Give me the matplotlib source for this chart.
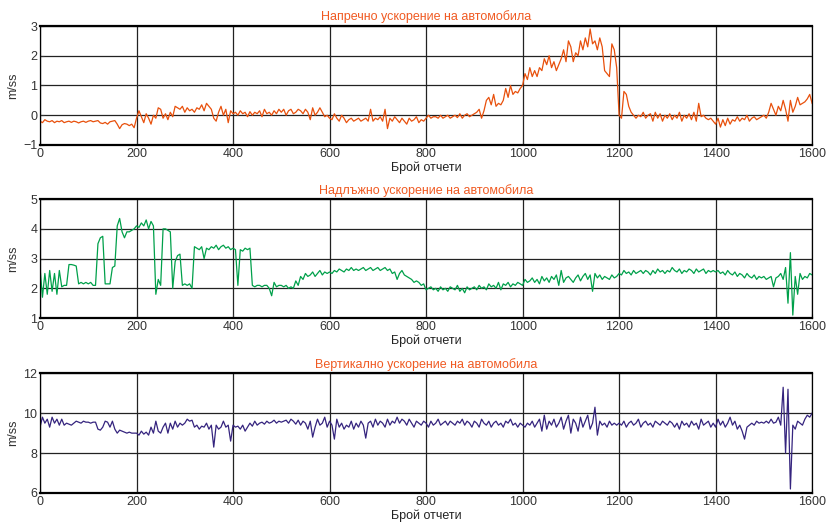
import numpy as np
import matplotlib.pyplot as plt

plt.rcParams['font.family'] = ['Liberation Sans', 'DejaVu Sans']

# sample index, one value every 5 samples
samples = np.arange(0, 1601, 5)

lateral = [
    -0.2, -0.25, -0.15, -0.2, -0.22, -0.18, -0.25, -0.2, -0.22, -0.18, -0.25, -0.22, -0.2, -0.24, -0.2, -0.22, -0.26, -0.22, -0.2, -0.24,
    -0.2, -0.18, -0.22, -0.2, -0.18, -0.26, -0.28, -0.24, -0.3, -0.22, -0.2, -0.18, -0.3, -0.45, -0.32, -0.28, -0.3, -0.35, -0.3, -0.42,
    -0.1, 0.15, -0.05, -0.25, 0.05, -0.1, -0.3, 0.0, -0.1, 0.25, 0.2, -0.1, 0.05, -0.15, 0.1, -0.05, 0.3, 0.25, 0.2, 0.3,
    0.1, 0.25, 0.15, 0.2, 0.1, 0.25, 0.2, 0.35, 0.15, 0.4, 0.3, 0.2, -0.1, -0.2, 0.1, 0.3, 0.0, 0.2, -0.25, 0.15,
    0.05, 0.1, 0.0, 0.15, 0.05, 0.1, -0.05, 0.12, 0.0, 0.1, 0.05, 0.15, -0.05, 0.2, 0.05, 0.1, 0.0, 0.15, 0.05, 0.2,
    0.1, 0.2, 0.0, 0.15, 0.2, 0.05, 0.1, 0.2, 0.15, 0.05, 0.2, 0.1, -0.15, 0.25, 0.0, 0.1, 0.25, 0.1, -0.05, 0.0,
    -0.1, -0.15, 0.05, -0.1, -0.2, 0.0, -0.1, -0.25, -0.15, -0.1, -0.2, -0.15, -0.1, -0.2, -0.15, -0.1, -0.2, 0.2, -0.2, -0.1,
    -0.15, -0.05, -0.2, 0.2, -0.45, -0.1, -0.2, -0.05, -0.15, -0.25, -0.1, -0.2, -0.3, -0.1, -0.2, -0.15, -0.05, -0.25, -0.15, -0.2,
    -0.1, 0.0, -0.1, -0.05, -0.05, -0.1, 0.0, -0.1, -0.05, 0.0, -0.1, -0.05, 0.0, -0.08, 0.05, -0.1, 0.0, 0.05, -0.05, 0.0,
    0.05, 0.1, 0.2, -0.1, 0.15, 0.5, 0.6, 0.35, 0.7, 0.3, 0.4, 0.35, 0.5, 0.9, 0.6, 1.0, 0.7, 0.8, 0.75, 0.9,
    1.0, 1.4, 1.2, 1.6, 1.3, 1.5, 1.3, 1.6, 1.5, 1.9, 1.7, 2.0, 1.6, 1.8, 1.5, 1.7, 1.9, 2.2, 1.8, 2.5,
    2.3, 1.8, 2.1, 2.0, 2.5, 2.2, 2.6, 2.3, 2.9, 2.4, 2.5, 2.2, 2.6, 2.3, 1.5, 1.4, 1.3, 2.4, 2.2, 1.6,
    0.0, -0.1, 0.8, 0.7, 0.3, 0.1, 0.0, -0.1, 0.0, -0.05, 0.1, -0.1, 0.0, 0.05, -0.2, 0.1, -0.1, 0.05, -0.2, 0.0,
    -0.1, 0.05, -0.15, 0.0, -0.1, 0.1, -0.2, 0.0, -0.1, 0.05, -0.15, 0.1, -0.2, 0.4, -0.05, 0.0, -0.1, -0.15, -0.1, -0.2,
    -0.3, -0.1, -0.4, -0.15, -0.35, -0.1, -0.3, -0.15, -0.2, -0.05, -0.2, -0.1, -0.15, 0.0, -0.2, -0.1, -0.05, -0.15, -0.1, -0.05,
    0.0, -0.1, 0.1, 0.4, 0.2, 0.0, 0.3, 0.15, 0.5, 0.2, -0.2, 0.5, 0.1, 0.3, 0.6, 0.35, 0.4, 0.45, 0.55, 0.7,
    0.4,
]

longitudinal = [
    2.7, 1.7, 2.5, 1.8, 2.6, 1.9, 2.5, 1.8, 2.6, 2.05, 2.1, 2.1, 2.8, 2.8, 2.78, 2.75, 2.15, 2.2, 2.15, 2.2,
    2.15, 2.2, 2.1, 2.1, 3.5, 3.7, 3.75, 2.15, 2.15, 2.15, 2.7, 2.75, 4.1, 4.35, 3.9, 3.7, 3.9, 3.9, 3.95, 4.0,
    4.1, 4.05, 4.2, 4.1, 4.3, 4.0, 4.25, 4.1, 1.8, 2.3, 2.1, 4.0, 4.0, 3.95, 3.9, 2.0, 2.9, 3.1, 3.15, 2.1,
    2.15, 2.1, 2.15, 2.0, 3.4, 3.35, 3.3, 3.4, 3.0, 3.35, 3.3, 3.4, 3.35, 3.45, 3.3, 3.4, 3.45, 3.35, 3.4, 3.3,
    3.35, 3.3, 2.1, 3.3, 3.25, 3.35, 3.3, 3.35, 2.1, 2.05, 2.1, 2.1, 2.05, 2.1, 2.1, 2.0, 1.75, 2.2, 2.05, 2.1,
    2.1, 2.05, 2.1, 2.0, 2.05, 2.0, 2.25, 2.1, 2.4, 2.3, 2.5, 2.4, 2.45, 2.55, 2.4, 2.5, 2.6, 2.45, 2.55, 2.5,
    2.55, 2.5, 2.6, 2.55, 2.65, 2.6, 2.55, 2.65, 2.6, 2.7, 2.6, 2.65, 2.6, 2.65, 2.7, 2.6, 2.65, 2.7, 2.6, 2.65,
    2.7, 2.6, 2.65, 2.7, 2.6, 2.65, 2.5, 2.55, 2.3, 2.5, 2.6, 2.45, 2.4, 2.35, 2.3, 2.2, 2.25, 2.2, 2.1, 2.15,
    1.95, 2.0, 2.05, 1.95, 2.0, 1.9, 2.05, 1.95, 2.0, 1.9, 2.05, 2.0, 1.95, 2.1, 1.9, 2.0, 1.85, 2.05, 1.95, 2.0,
    2.05, 1.95, 2.1, 2.0, 2.05, 1.95, 2.15, 2.05, 2.1, 2.0, 2.2, 1.95, 2.15, 2.1, 2.2, 2.05, 2.15, 2.1, 2.2, 2.15,
    2.1, 2.3, 2.2, 2.25, 2.35, 2.2, 2.3, 2.15, 2.4, 2.25, 2.35, 2.2, 2.4, 2.3, 2.45, 2.1, 2.6, 2.2, 2.35, 2.4,
    2.3, 2.2, 2.35, 2.45, 2.25, 2.4, 2.5, 2.3, 2.45, 1.9, 2.5, 2.35, 2.45, 2.3, 2.4, 2.35, 2.3, 2.45, 2.35, 2.4,
    2.5, 2.45, 2.6, 2.5, 2.55, 2.45, 2.6, 2.5, 2.55, 2.6, 2.5, 2.6, 2.55, 2.45, 2.6, 2.5, 2.65, 2.55, 2.6, 2.5,
    2.6, 2.55, 2.7, 2.6, 2.55, 2.65, 2.5, 2.6, 2.55, 2.65, 2.6, 2.5, 2.65, 2.55, 2.6, 2.65, 2.5, 2.6, 2.55, 2.6,
    2.55, 2.6, 2.5, 2.55, 2.45, 2.6, 2.5, 2.45, 2.55, 2.4, 2.5, 2.45, 2.35, 2.5, 2.4, 2.35, 2.45, 2.3, 2.4, 2.35,
    2.4, 2.3, 2.35, 2.4, 2.05, 2.35, 2.4, 2.5, 2.3, 2.7, 1.5, 3.2, 1.1, 2.4, 1.8, 2.5, 2.3, 2.4, 2.35, 2.5,
    2.45,
]

vertical = [
    9.3, 9.8, 9.5, 9.7, 9.3, 9.8, 9.5, 9.7, 9.4, 9.7, 9.4, 9.5, 9.45, 9.4, 9.5, 9.6, 9.55, 9.5, 9.6, 9.55,
    9.55, 9.5, 9.55, 9.55, 9.2, 9.15, 9.3, 9.6, 9.55, 9.3, 9.6, 9.2, 9.0, 9.15, 9.1, 9.05, 9.0, 9.05, 9.0, 9.0,
    9.0, 8.9, 9.1, 8.95, 9.05, 8.9, 9.3, 9.0, 9.6, 9.1, 9.0, 9.3, 9.5, 9.0, 9.5, 9.2, 9.6, 9.3, 9.5, 9.4,
    9.5, 9.7, 9.6, 9.65, 9.3, 9.4, 9.2, 9.35, 9.3, 9.5, 9.2, 9.4, 8.3, 9.4, 9.2, 9.3, 9.6, 9.3, 9.4, 8.6,
    9.4, 9.3, 9.35, 9.2, 9.4, 9.1, 9.3, 9.5, 9.35, 9.6, 9.4, 9.5, 9.55, 9.45, 9.6, 9.5, 9.55, 9.65, 9.5, 9.6,
    9.55, 9.6, 9.65, 9.5, 9.7, 9.6, 9.45, 9.65, 9.4, 9.6, 9.5, 9.2, 9.6, 8.8, 9.3, 9.7, 9.4, 9.5, 9.8, 9.3,
    9.6, 9.4, 8.7, 9.7, 9.3, 9.5, 9.2, 9.4, 9.3, 9.6, 9.2, 9.5, 9.3, 9.6, 9.4, 8.75, 9.5, 9.6, 9.3, 9.7,
    9.4, 9.6, 9.5, 9.3, 9.7, 9.4, 9.6, 9.5, 9.8, 9.5, 9.7, 9.6, 9.4, 9.7, 9.5, 9.3, 9.6, 9.5, 9.4, 9.6,
    9.5, 9.3, 9.6, 9.4, 9.5, 9.7, 9.4, 9.5, 9.6, 9.4, 9.6, 9.5, 9.4, 9.6, 9.5, 9.7, 9.4, 9.6, 9.5, 9.3,
    9.6, 9.5, 9.3, 9.7, 9.5, 9.4, 9.6, 9.3, 9.5, 9.6, 9.4, 9.5, 9.3, 9.6, 9.5, 9.7, 9.4, 9.5, 9.3, 9.5,
    9.4, 9.3, 9.5, 9.4, 9.6, 9.3, 9.5, 9.7, 9.1, 9.9, 9.2, 9.6, 9.4, 9.7, 9.3, 9.5, 9.8, 9.2, 9.6, 9.9,
    9.0, 9.7, 9.5, 9.1, 9.8, 9.3, 9.6, 9.9, 9.2, 9.5, 10.3, 8.9, 9.6, 9.4, 9.5, 9.3, 9.6, 9.4, 9.5, 9.4,
    9.5, 9.4, 9.6, 9.3, 9.5, 9.6, 9.4, 9.5, 9.7, 9.3, 9.5, 9.6, 9.4, 9.5, 9.3, 9.6, 9.5, 9.4, 9.6, 9.5,
    9.4, 9.6, 9.5, 9.3, 9.5, 9.2, 9.6, 9.4, 9.5, 9.3, 9.6, 9.4, 9.5, 9.2, 9.7, 9.4, 9.5, 9.6, 9.3, 9.5,
    9.3, 9.7, 9.4, 9.6, 9.3, 9.5, 9.8, 9.4, 9.6, 9.2, 9.4, 9.1, 8.7, 9.3, 9.4, 9.5, 9.4, 9.6, 9.5, 9.55,
    9.5, 9.6, 9.5, 9.7, 9.5, 9.55, 9.8, 9.4, 11.3, 8.0, 11.2, 6.2, 9.4, 9.2, 9.6, 9.5, 9.4, 9.7, 9.9, 9.8,
    10.0,
]

titles = ['Напречно ускорение на автомобила',
          'Надлъжно ускорение на автомобила',
          'Вертикално ускорение на автомобила']
series = [lateral, longitudinal, vertical]
colors = ['#e8500c', '#00a04a', '#35247e']
ylims = [(-1, 3), (1, 5), (6, 12)]
yticks = [[-1, 0, 1, 2, 3], [1, 2, 3, 4, 5], [6, 8, 10, 12]]
boxes = [[0.0484, 0.727, 0.9336, 0.224],
         [0.0484, 0.401, 0.9336, 0.224],
         [0.0484, 0.0716, 0.9336, 0.2254]]

fig = plt.figure(figsize=(8.27, 5.31), dpi=100)

for i in range(3):
    ax = fig.add_axes(boxes[i])
    ax.plot(samples, series[i], color=colors[i], lw=0.9)
    ax.set_xlim(0, 1600)
    ax.set_ylim(*ylims[i])
    ax.set_xticks(range(0, 1601, 200))
    ax.set_yticks(yticks[i])
    ax.grid(True, color='#222222', lw=0.9)
    ax.tick_params(direction='in', length=3, labelsize=9, colors='#333333', pad=2)
    for s in ['top', 'bottom']:
        ax.spines[s].set_linewidth(1.6)
    for s in ['left', 'right']:
        ax.spines[s].set_linewidth(0.9)
    ax.set_title(titles[i], color='#f05a22', fontsize=9, pad=4)
    ax.set_ylabel('m/ss', fontsize=9, color='#333333')
    ax.yaxis.set_label_coords(-0.027, 0.5)
    ax.set_xlabel('Брой отчети', fontsize=9, color='#222222', labelpad=1)

fig.savefig('out.png', dpi=100)
